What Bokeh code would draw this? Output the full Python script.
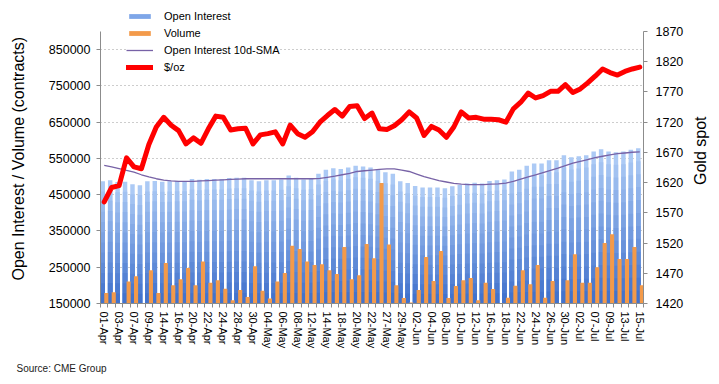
import numpy as np
from bokeh.plotting import figure
from bokeh.layouts import row, column
from bokeh.models import (Range1d, LinearAxis, FixedTicker, Legend, LegendItem,
                          NumeralTickFormatter, Label)
from bokeh.embed import file_html
from bokeh.resources import INLINE

# ---------------- data ----------------
dates = ["01-Apr", "02-Apr", "03-Apr", "06-Apr", "07-Apr", "08-Apr", "09-Apr", "13-Apr",
         "14-Apr", "15-Apr", "16-Apr", "17-Apr", "20-Apr", "21-Apr", "22-Apr", "23-Apr",
         "24-Apr", "27-Apr", "28-Apr", "29-Apr", "30-Apr", "01-May", "04-May", "05-May",
         "06-May", "07-May", "08-May", "11-May", "12-May", "13-May", "14-May", "15-May",
         "18-May", "19-May", "20-May", "21-May", "22-May", "26-May", "27-May", "28-May",
         "29-May", "01-Jun", "02-Jun", "03-Jun", "04-Jun", "05-Jun", "08-Jun", "09-Jun",
         "10-Jun", "11-Jun", "12-Jun", "15-Jun", "16-Jun", "17-Jun", "18-Jun", "19-Jun",
         "22-Jun", "23-Jun", "24-Jun", "25-Jun", "26-Jun", "29-Jun", "30-Jun", "01-Jul",
         "02-Jul", "06-Jul", "07-Jul", "08-Jul", "09-Jul", "10-Jul", "13-Jul", "14-Jul",
         "15-Jul"]

open_interest = [487000, 490000, 485000, 486000, 479000, 476000, 487000, 488000,
                 486000, 487000, 488000, 488000, 493000, 491000, 493000, 493000,
                 493000, 496000, 497000, 497000, 490000, 487000, 490000, 490000,
                 492000, 503000, 497000, 492000, 494000, 508000, 519000, 523000,
                 521000, 525000, 530000, 528000, 525000, 519000, 512000, 508000,
                 487000, 482000, 474000, 470000, 470000, 470000, 468000, 473000,
                 477000, 481000, 483000, 481000, 488000, 490000, 492000, 514000,
                 519000, 530000, 536000, 536000, 545000, 545000, 559000, 553000,
                 556000, 559000, 569000, 575000, 569000, 567000, 569000, 574000,
                 578000]

volume = [179000, 181000, 140000, 211000, 225000, 140000, 242000, 179000,
          262000, 200000, 217000, 248000, 200000, 266000, 207000, 214000,
          191000, 159000, 187000, 168000, 253000, 185000, 164000, 211000,
          234000, 309000, 300000, 266000, 256000, 258000, 242000, 231000,
          306000, 217000, 228000, 314000, 275000, 482000, 313000, 200000,
          165000, 153000, 187000, 278000, 212000, 295000, 165000, 198000,
          214000, 220000, 159000, 207000, 190000, 140000, 166000, 199000,
          242000, 203000, 256000, 166000, 212000, 140000, 214000, 286000,
          207000, 207000, 250000, 317000, 341000, 273000, 273000, 306000,
          200000]

oi_sma10 = [531000, 527000, 522000, 517000, 512000, 505000, 499000, 494000,
            490000, 488000, 487000, 487000, 487000, 488000, 489000, 490000,
            491000, 492000, 493000, 494000, 494000, 494000, 494000, 494000,
            494000, 494000, 494000, 494000, 494000, 495000, 498000, 501000,
            505000, 509000, 514000, 516000, 518000, 520000, 521000, 521000,
            518000, 514000, 507000, 500000, 494000, 489000, 485000, 481000,
            479000, 478000, 478000, 478000, 479000, 480000, 482000, 487000,
            493000, 499000, 505000, 511000, 517000, 523000, 530000, 537000,
            542000, 547000, 552000, 556000, 560000, 563000, 565000, 567000,
            568000]

gold_usd_oz = [1588, 1612, 1615, 1661, 1646, 1643, 1683, 1712,
               1728, 1715, 1706, 1684, 1694, 1685, 1709, 1730,
               1728, 1707, 1709, 1710, 1684, 1699, 1701, 1704,
               1684, 1715, 1701, 1695, 1704, 1720, 1731, 1741,
               1730, 1746, 1747, 1726, 1735, 1709, 1708, 1714,
               1724, 1737, 1727, 1698, 1713, 1707, 1695, 1712,
               1737, 1727, 1728, 1725, 1725, 1724, 1720, 1742,
               1753, 1768, 1760, 1764, 1771, 1771, 1782, 1769,
               1775, 1785, 1796, 1808, 1802, 1798, 1804, 1808,
               1811]

left_ticks = [150000, 250000, 350000, 450000, 550000, 650000, 750000, 850000]
right_ticks = [1420, 1470, 1520, 1570, 1620, 1670, 1720, 1770, 1820, 1870]
left_axis_span = (150000, 900000)
right_axis_span = (1420, 1870)
left_title = "Open Interest / Volume (contracts)"
right_title = "Gold spot"
source_note = "Source: CME Group"

# ---------------- layout sizes ----------------
FONT = "Liberation Sans"
n = len(dates)
x = np.arange(n)

LEFT_W = 28            # strip holding the left axis title
RIGHT_W = 31           # strip holding the right axis title
NOTE_H = 23            # strip holding the source note
MAIN_H = 360
MAIN_BORDER_L = 72
MAIN_BORDER_R = 44
AXIS_PX = 272          # height of the drawn axis span
TOP_PAD = 31           # room above the axes for the legend
FRAME_W = 543
FRAME_H = AXIS_PX + TOP_PAD
TOTAL_W = LEFT_W + MAIN_BORDER_L + FRAME_W + MAIN_BORDER_R + RIGHT_W
ext = FRAME_H / AXIS_PX
left_top = left_axis_span[0] + (left_axis_span[1] - left_axis_span[0]) * ext
right_top = right_axis_span[0] + (right_axis_span[1] - right_axis_span[0]) * ext

p = figure(frame_width=FRAME_W, frame_height=FRAME_H,
           x_range=Range1d(-0.5, n - 0.5),
           y_range=Range1d(left_axis_span[0], left_top),
           output_backend="svg", toolbar_location=None,
           min_border_left=MAIN_BORDER_L, min_border_right=MAIN_BORDER_R,
           min_border_top=0, min_border_bottom=MAIN_H - FRAME_H)
p.title.visible = False
p.extra_y_ranges = {"gold": Range1d(right_axis_span[0], right_top)}
p.outline_line_color = None
p.background_fill_color = "white"

# gradient-like open interest bars (light top, dark bottom)
oi = np.array(open_interest, dtype=float)
base = left_axis_span[0]
light = np.array([172, 202, 245])
dark = np.array([66, 115, 205])
n_layers = 12
for k in range(n_layers):
    f = 1 - k / n_layers
    t = k / (n_layers - 1)
    c = (light * (1 - t) + dark * t).astype(int)
    color = "#%02x%02x%02x" % tuple(c)
    p.vbar(x=x - 0.2, width=0.6, bottom=0, top=base + (oi - base) * f,
           fill_color=color, line_color=None)

r_vol = p.vbar(x=x + 0.28, width=0.55, bottom=0, top=volume,
               fill_color="#f39a4a", line_color=None)

r_sma = p.line(x, oi_sma10, line_color="#7762a6", line_width=1.3)
r_gold = p.line(x, gold_usd_oz, y_range_name="gold", line_color="#ff0000",
                line_width=5, line_join="round", line_cap="round")

# legend proxy for the gradient bars
r_oi_leg = p.vbar(x=[-5], width=0.6, top=[0], fill_color="#7ea6e8", line_color=None)

# ---------------- axes ----------------
yl = p.left[0]
yl.ticker = FixedTicker(ticks=left_ticks)
yl.bounds = left_axis_span
yl.formatter = NumeralTickFormatter(format="0")
yl.major_label_text_font = FONT
yl.major_label_text_font_size = "12.5px"
yl.major_label_text_color = "black"
yl.major_label_standoff = 6
yl.axis_line_color = "#8c8c8c"
yl.major_tick_line_color = "#8c8c8c"
yl.major_tick_out = 4
yl.major_tick_in = 0
yl.minor_tick_line_color = None

yr = LinearAxis(y_range_name="gold", ticker=FixedTicker(ticks=right_ticks),
                bounds=right_axis_span)
yr.major_label_text_font = FONT
yr.major_label_text_font_size = "12.5px"
yr.major_label_text_color = "black"
yr.major_label_standoff = 8
yr.axis_line_color = "#8c8c8c"
yr.major_tick_line_color = "#8c8c8c"
yr.major_tick_out = 4
yr.major_tick_in = 0
yr.minor_tick_line_color = None
p.add_layout(yr, "right")

xa = p.below[0]
label_idx = list(range(0, n, 2))
xa.ticker = FixedTicker(ticks=label_idx, minor_ticks=[i - 0.5 for i in range(n + 1)])
xa.major_label_overrides = {i: dates[i] for i in label_idx}
xa.major_label_orientation = "vertical"
xa.major_label_text_font = FONT
xa.major_label_text_font_size = "11px"
xa.major_label_text_color = "black"
xa.major_label_standoff = 4
xa.major_tick_out = 0
xa.major_tick_in = 0
xa.minor_tick_out = 4
xa.minor_tick_in = 0
xa.minor_tick_line_color = "#8c8c8c"
xa.axis_line_color = "#8c8c8c"

p.xgrid.visible = False
p.ygrid.ticker = FixedTicker(ticks=left_ticks[1:])
p.ygrid.grid_line_color = "#9a9a9a"
p.ygrid.grid_line_dash = "1 3"
p.ygrid.grid_line_width = 1

# ---------------- legend ----------------
legend = Legend(items=[
    LegendItem(label="Open Interest", renderers=[r_oi_leg]),
    LegendItem(label="Volume", renderers=[r_vol]),
    LegendItem(label="Open Interest 10d-SMA", renderers=[r_sma]),
    LegendItem(label="$/oz", renderers=[r_gold]),
], location=(26, 229))
legend.label_text_font = FONT
legend.label_text_font_size = "11px"
legend.label_text_color = "black"
legend.glyph_width = 27
legend.glyph_height = 6
legend.label_height = 14
legend.label_standoff = 11
legend.spacing = 3
legend.padding = 4
legend.margin = 0
legend.border_line_color = None
legend.background_fill_color = "white"
legend.background_fill_alpha = 1
p.add_layout(legend, "center")


# ---------------- text strips (titles and note) ----------------
def text_strip(w, h):
    f = figure(width=w, height=h, x_range=Range1d(0, w), y_range=Range1d(0, h),
               output_backend="svg", toolbar_location=None,
               x_axis_type=None, y_axis_type=None, min_border=0)
    f.title.visible = False
    f.grid.visible = False
    f.outline_line_color = None
    return f


p_left = text_strip(LEFT_W, MAIN_H)
p_left.add_layout(Label(x=17.5, y=172, text=left_title, angle=float(np.pi / 2),
                        text_align="center", text_baseline="middle", text_font=FONT,
                        text_font_size="16px", text_color="black"))

p_right = text_strip(RIGHT_W, MAIN_H)
p_right.add_layout(Label(x=13, y=181.5, text=right_title, angle=float(np.pi / 2),
                         text_align="center", text_baseline="middle", text_font=FONT,
                         text_font_size="16px", text_color="black"))

p_note = text_strip(TOTAL_W, NOTE_H)
p_note.add_layout(Label(x=16, y=NOTE_H - 8, text=source_note, text_align="left",
                        text_baseline="middle", text_font=FONT, text_font_size="10px",
                        text_color="#222222"))

layout = column(row(p_left, p, p_right, spacing=0), p_note, spacing=0)

open("out.html", "w").write(file_html(layout, INLINE))
